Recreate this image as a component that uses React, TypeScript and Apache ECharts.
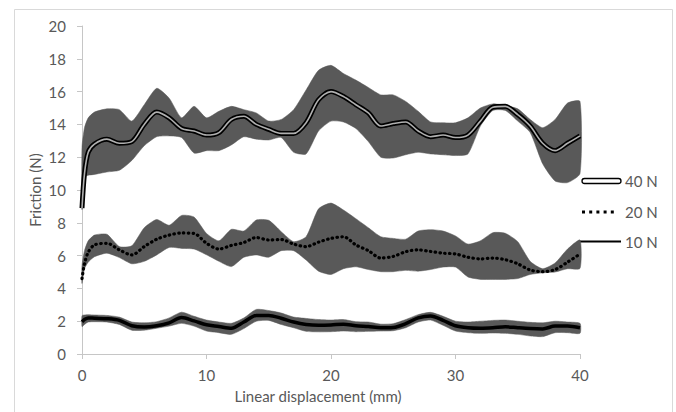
import React, { useEffect, useRef } from "react";
import * as echarts from "echarts";

// Linear displacement positions (mm)
const X_MM = [0, 0.2, 0.5, 1, 2, 3, 4, 5, 6, 7, 8, 9, 10, 11, 12, 13, 14, 15, 16, 17, 18, 19, 20,
  21, 22, 23, 24, 25, 26, 27, 28, 29, 30, 31, 32, 33, 34, 35, 36, 37, 38, 39, 40];

const X_TICKS = [0, 10, 20, 30, 40];
const Y_TICKS = [0, 2, 4, 6, 8, 10, 12, 14, 16, 18, 20];
const LEGEND_LABELS = ["40 N", "20 N", "10 N"];

// 40 N
const MEAN_40 = [8.9, 11.0, 12.3, 12.8, 13.1, 12.85, 12.95, 14.0, 14.75, 14.4, 13.75, 13.6, 13.35, 13.5, 14.3, 14.5, 14.0, 13.7, 13.45, 13.45, 14.1, 15.5, 16.0,
  15.7, 15.2, 14.7, 13.9, 14.05, 14.15, 13.6, 13.25, 13.35, 13.2, 13.35, 14.2, 15.05, 15.1, 14.6, 13.9, 12.85, 12.4, 12.85, 13.3];
const UPPER_40 = [12.6, 13.8, 14.4, 14.75, 14.95, 14.9, 14.2, 15.2, 16.2, 15.6, 14.4, 15.1, 14.4, 14.8, 15.1, 14.9, 14.7, 14.2, 14.3, 14.9, 16.1, 17.3, 17.6,
  17.1, 16.7, 16.25, 15.8, 15.8, 15.4, 14.8, 14.15, 14.1, 14.1, 14.4, 15.0, 15.25, 15.15, 14.95, 14.3, 13.8, 14.3, 15.3, 15.4];
const LOWER_40 = [8.8, 10.8, 10.9, 10.95, 11.1, 11.2, 11.8, 12.7, 13.25, 13.3, 13.2, 12.25, 12.4, 12.4, 12.75, 13.25, 13.1, 13.05, 13.2, 12.3, 12.2, 13.6, 14.2,
  14.15, 13.75, 12.95, 12.0, 11.95, 12.15, 12.3, 12.2, 12.15, 12.1, 12.2, 13.9, 14.85, 14.85, 14.2, 13.5, 11.6, 10.55, 10.45, 11.0];

// 20 N
const MEAN_20 = [4.6, 5.5, 6.2, 6.65, 6.75, 6.35, 6.04, 6.55, 7.0, 7.25, 7.38, 7.35, 6.75, 6.4, 6.62, 6.8, 7.1, 6.95, 6.98, 6.7, 6.55, 6.82, 7.05,
  7.15, 6.65, 6.3, 5.85, 5.95, 6.24, 6.35, 6.25, 6.15, 6.1, 5.9, 5.8, 5.85, 5.75, 5.5, 5.12, 5.02, 5.15, 5.6, 6.1];
const UPPER_20 = [5.4, 6.3, 6.9, 7.25, 7.3, 6.55, 6.6, 7.7, 8.2, 7.85, 8.45, 8.35, 7.35, 6.9, 7.6, 7.5, 8.17, 8.15, 7.46, 6.85, 7.15, 8.85, 9.2,
  8.78, 8.25, 7.7, 7.15, 7.05, 7.0, 7.5, 7.58, 7.5, 7.2, 6.7, 6.9, 7.4, 7.36, 6.85, 5.65, 5.2, 5.55, 6.4, 6.95];
const LOWER_20 = [4.3, 5.2, 5.6, 5.93, 6.15, 5.88, 5.5, 5.65, 6.04, 6.5, 6.44, 6.4, 6.05, 5.65, 5.33, 5.9, 6.04, 5.9, 6.3, 6.3, 5.73, 5.05, 4.85,
  5.2, 5.32, 5.15, 5.02, 5.02, 5.1, 5.05, 5.15, 5.3, 5.3, 4.7, 4.55, 4.55, 4.55, 4.6, 4.85, 4.95, 5.0, 5.2, 5.22];

// 10 N
const MEAN_10 = [1.97, 2.1, 2.2, 2.18, 2.15, 2.05, 1.72, 1.64, 1.72, 1.9, 2.22, 2.02, 1.78, 1.68, 1.57, 1.95, 2.35, 2.35, 2.18, 1.95, 1.8, 1.75, 1.77,
  1.82, 1.72, 1.67, 1.6, 1.62, 1.85, 2.2, 2.32, 2.05, 1.72, 1.6, 1.57, 1.6, 1.66, 1.6, 1.55, 1.53, 1.7, 1.7, 1.6];
const UPPER_10 = [2.34, 2.38, 2.4, 2.38, 2.35, 2.25, 1.95, 1.9, 1.97, 2.2, 2.55, 2.3, 2.07, 1.95, 1.87, 2.2, 2.72, 2.65, 2.5, 2.25, 2.17, 2.1, 2.07,
  2.1, 1.97, 1.95, 1.82, 1.85, 2.1, 2.4, 2.54, 2.3, 2.0, 1.95, 2.0, 2.05, 2.07, 2.0, 1.93, 1.9, 2.0, 1.95, 1.87];
const LOWER_10 = [1.67, 1.8, 1.95, 1.97, 1.95, 1.8, 1.45, 1.45, 1.57, 1.7, 1.87, 1.7, 1.4, 1.3, 1.2, 1.55, 2.0, 2.05, 1.8, 1.6, 1.38, 1.35, 1.36,
  1.4, 1.36, 1.38, 1.4, 1.42, 1.6, 1.95, 2.07, 1.75, 1.4, 1.3, 1.26, 1.28, 1.26, 1.2, 1.1, 1.06, 1.3, 1.3, 1.26];

const FONT = "Lato";
const TEXT_COLOR = "#595959";
const BAND_COLOR = "#595959";
const AXIS_COLOR = "#c6c6c6";

const pairs = (ys: number[]) => X_MM.map((x, i) => [x, ys[i]]);

// Error band drawn as a polygon through the axes' own coordinate system
function bandSeries(name: string, lo: number[], hi: number[]) {
  return {
    type: "custom",
    name,
    silent: true,
    data: [[X_MM[0], lo[0]]],
    encode: { x: 0, y: 1 },
    renderItem: (_params: any, api: any) => {
      const top = X_MM.map((x, i) => api.coord([x, hi[i]]));
      const bottom = X_MM.map((x, i) => api.coord([x, lo[i]])).reverse();
      return {
        type: "polygon",
        shape: { points: top.concat(bottom), smooth: 0.2 },
        style: { fill: BAND_COLOR, stroke: BAND_COLOR, lineWidth: 0.5 },
      };
    },
  };
}

export default function App() {
  const ref = useRef<HTMLDivElement>(null);

  useEffect(() => {
    if (!ref.current) return;
    const chart = echarts.init(ref.current, null, { renderer: "svg" });

    const option: any = {
      animation: false,
      backgroundColor: "#ffffff",
      textStyle: { fontFamily: FONT },
      grid: { left: 82, right: 96, top: 26, bottom: 58, containLabel: false },
      xAxis: {
        type: "value",
        min: X_TICKS[0],
        max: X_TICKS[X_TICKS.length - 1],
        interval: 10,
        axisLine: { show: true, lineStyle: { color: AXIS_COLOR, width: 1 } },
        axisTick: { show: true, length: 5, lineStyle: { color: AXIS_COLOR } },
        splitLine: { show: false },
        axisLabel: { color: TEXT_COLOR, fontSize: 15, fontFamily: FONT, margin: 13 },
      },
      yAxis: {
        type: "value",
        min: Y_TICKS[0],
        max: Y_TICKS[Y_TICKS.length - 1],
        interval: 2,
        axisLine: { show: true, lineStyle: { color: AXIS_COLOR, width: 1 } },
        axisTick: { show: true, length: 5, lineStyle: { color: AXIS_COLOR } },
        splitLine: { show: false },
        axisLabel: { color: TEXT_COLOR, fontSize: 15, fontFamily: FONT, margin: 16 },
      },
      series: [
        bandSeries("40 N band", LOWER_40, UPPER_40),
        bandSeries("20 N band", LOWER_20, UPPER_20),
        bandSeries("10 N band", LOWER_10, UPPER_10),
        {
          type: "line",
          name: "40 N outline",
          data: pairs(MEAN_40),
          symbol: "none",
          smooth: 0.3,
          lineStyle: { color: "#000000", width: 5 },
        },
        {
          type: "line",
          name: "40 N",
          data: pairs(MEAN_40),
          symbol: "none",
          smooth: 0.3,
          lineStyle: { color: "#b0b0b0", width: 1.6 },
        },
        {
          type: "line",
          name: "20 N",
          data: pairs(MEAN_20),
          symbol: "none",
          smooth: 0.3,
          lineStyle: { color: "#000000", width: 3.2, type: [0.5, 4.3], cap: "round" },
        },
        {
          type: "line",
          name: "10 N",
          data: pairs(MEAN_10),
          symbol: "none",
          smooth: 0.3,
          lineStyle: { color: "#000000", width: 3.5 },
        },
      ],
      graphic: [
        {
          type: "rect",
          silent: true,
          shape: { x: 14.5, y: 9.5, width: 658, height: 420 },
          style: { fill: "none", stroke: "#d9d9d9", lineWidth: 1 },
        },
        {
          type: "text",
          x: 35,
          y: 190,
          rotation: Math.PI / 2,
          style: {
            text: "Friction (N)",
            fill: TEXT_COLOR,
            font: `15px ${FONT}`,
            align: "center",
            verticalAlign: "middle",
          },
        },
        {
          type: "text",
          x: 318,
          y: 396,
          style: {
            text: "Linear displacement (mm)",
            fill: TEXT_COLOR,
            font: `15px ${FONT}`,
            align: "center",
            verticalAlign: "middle",
          },
        },
        // legend 40 N
        {
          type: "rect",
          shape: { x: 582, y: 178.5, width: 39, height: 5, r: 2.5 },
          style: { fill: "#ffffff", stroke: "#000000", lineWidth: 1.3 },
        },
        {
          type: "text",
          x: 625,
          y: 181,
          style: { text: LEGEND_LABELS[0], fill: TEXT_COLOR, font: `15px ${FONT}`, verticalAlign: "middle" },
        },
        // legend 20 N
        {
          type: "line",
          shape: { x1: 582, y1: 212, x2: 618, y2: 212 },
          style: { stroke: "#000000", lineWidth: 3, lineDash: [3, 4.2] },
        },
        {
          type: "text",
          x: 625,
          y: 211.5,
          style: { text: LEGEND_LABELS[1], fill: TEXT_COLOR, font: `15px ${FONT}`, verticalAlign: "middle" },
        },
        // legend 10 N
        {
          type: "line",
          shape: { x1: 580, y1: 241.5, x2: 621, y2: 241.5 },
          style: { stroke: "#000000", lineWidth: 2 },
        },
        {
          type: "text",
          x: 625,
          y: 241.5,
          style: { text: LEGEND_LABELS[2], fill: TEXT_COLOR, font: `15px ${FONT}`, verticalAlign: "middle" },
        },
      ],
    };

    chart.setOption(option);
    return () => chart.dispose();
  }, []);

  return (
    <div
      ref={ref}
      style={{ position: "absolute", left: 0, top: 0, width: 676, height: 412 }}
    />
  );
}
